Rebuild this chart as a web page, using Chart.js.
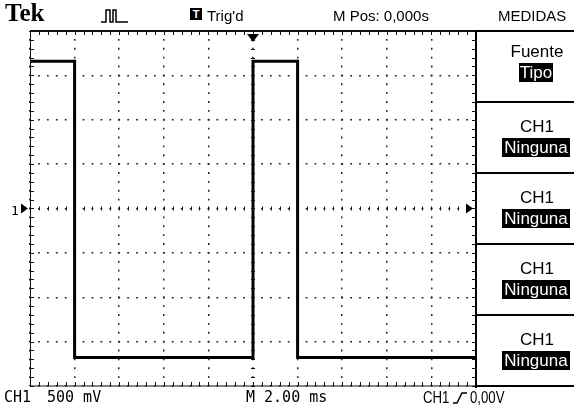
<!DOCTYPE html>
<html>
<head>
<meta charset="utf-8">
<script src="https://cdn.jsdelivr.net/npm/chart.js@4"></script>
<style>
  html, body { margin: 0; padding: 0; background: #fff; }
  #scope { position: relative; width: 574px; height: 407px; overflow: hidden; background: #fff; }
  #scope canvas { position: absolute; left: 0; top: 0; }
  .txt { position: absolute; line-height: 1; white-space: nowrap; color: #000;
         font-family: "Liberation Sans", Arial, sans-serif; font-size: 15px; }
  .mono { font-family: "DejaVu Sans Mono", monospace; font-size: 15px; }
  .inv { background: #000; color: #fff; text-align: center; }
  .sep { position: absolute; left: 476px; width: 98px; height: 2px; background: #000; }
  .menu { left: 500px; width: 74px; text-align: center; font-size: 17px; }
  .narrow { transform: scaleX(0.8); transform-origin: left top; }
</style>
</head>
<body>
<div id="scope">
  <canvas id="scopeChart" width="574" height="407"></canvas>

  <div class="txt" style="left:5px;top:0px;font-family:'Liberation Serif',serif;font-weight:bold;font-size:25px;">Tek</div>
  <svg style="position:absolute;left:100px;top:8px" width="30" height="16">
    <polyline points="1,14 6,14 6,2 10,2 10,14 13,14 13,2 16,2 16,14 28,14" fill="none" stroke="#000" stroke-width="1.5"/>
  </svg>
  <div class="txt inv" style="left:190px;top:8px;width:12px;height:12px;font-size:11px;line-height:12px;font-weight:bold;">T</div>
  <div class="txt" style="left:207px;top:8px;">Trig'd</div>
  <div class="txt" style="left:333px;top:8px;">M Pos: 0,000s</div>
  <div class="txt" style="left:498px;top:8px;">MEDIDAS</div>

  <div class="txt mono" style="left:11px;top:204px;font-size:13px;">1</div>

  <div class="txt mono" style="left:4px;top:390px;">CH1</div>
  <div class="txt mono" style="left:47px;top:390px;">500 mV</div>
  <div class="txt mono" style="left:246px;top:390px;">M 2.00 ms</div>
  <div class="txt narrow" style="left:423px;top:389px;font-size:16.5px;">CH1</div>
  <svg style="position:absolute;left:452px;top:391px" width="16" height="14">
    <polyline points="1,12 5,12 10,2 15,2" fill="none" stroke="#000" stroke-width="1.5"/>
  </svg>
  <div class="txt narrow" style="left:470px;top:389px;font-size:16.5px;">0,00V</div>

  <div id="menu"></div>
</div>

<script>
// horizontal: 2.00 ms/div, 10 divisions; vertical: 500 mV/div, 8 divisions
const msPerDiv = 2;
const voltsPerDiv = 0.5;
const timeMs = [0, 2, 2, 10, 10, 12, 12, 20];
const ch1Volts = [1.66, 1.66, -1.68, -1.68, 1.66, 1.66, -1.68, -1.68];
const triggerTimeMs = 10;
const triggerLevel = 0;

const menuTitles = ["Fuente", "CH1", "CH1", "CH1", "CH1"];
const menuValues = ["Tipo", "Ninguna", "Ninguna", "Ninguna", "Ninguna"];

// right-hand menu boxes
const menu = document.getElementById("menu");
const boxTop = 31, boxH = 71;
let html = `<div class="sep" style="top:${boxTop - 1}px;height:2px"></div>`;
html += `<div style="position:absolute;left:475px;top:${boxTop}px;width:2px;height:${boxH * 5 + 2}px;background:#000"></div>`;
menuTitles.forEach((title, i) => {
  const t = boxTop + i * boxH;
  const first = i === 0;
  html += `<div class="txt menu" style="top:${t + (first ? 12 : 16)}px">${title}</div>`;
  const w = first ? 34 : 68;
  html += `<div class="txt inv" style="left:${536 - w / 2}px;top:${t + (first ? 32 : 36)}px;width:${w}px;height:19px;line-height:19px;font-size:17px">${menuValues[i]}</div>`;
  html += `<div class="sep" style="top:${t + boxH - 1}px"></div>`;
});
menu.innerHTML = html;

const graticule = {
  id: "graticule",
  afterDatasetsDraw(chart) {
    const { ctx, chartArea: a, scales: { x, y } } = chart;
    const cx = x.getPixelForValue(triggerTimeMs);
    const cy = y.getPixelForValue(0);
    ctx.save();
    ctx.strokeStyle = "#111";
    ctx.lineWidth = 1;
    ctx.beginPath();
    for (let t = x.min; t <= x.max + 1e-6; t += msPerDiv / 5) {
      const px = Math.round(x.getPixelForValue(t)) + 0.5;
      ctx.moveTo(px, a.top); ctx.lineTo(px, a.top + 4);
      ctx.moveTo(px, a.bottom); ctx.lineTo(px, a.bottom - 4);
      ctx.moveTo(px, cy - 2); ctx.lineTo(px, cy + 2);
    }
    for (let v = y.min; v <= y.max + 1e-6; v += voltsPerDiv / 5) {
      const py = Math.round(y.getPixelForValue(v)) + 0.5;
      ctx.moveTo(a.left, py); ctx.lineTo(a.left + 4, py);
      ctx.moveTo(a.right, py); ctx.lineTo(a.right - 4, py);
      ctx.moveTo(cx - 2, py); ctx.lineTo(cx + 2, py);
    }
    ctx.stroke();

    // frame
    ctx.beginPath();
    ctx.lineWidth = 2;
    ctx.moveTo(a.left, a.top); ctx.lineTo(a.right, a.top);
    ctx.stroke();
    ctx.beginPath();
    ctx.lineWidth = 1;
    ctx.moveTo(a.left + 0.5, a.top); ctx.lineTo(a.left + 0.5, a.bottom);
    ctx.lineTo(a.right, a.bottom);
    ctx.stroke();

    // markers: trigger position, ground level, trigger level
    ctx.fillStyle = "#000";
    ctx.beginPath();
    ctx.moveTo(cx - 6, a.top + 3); ctx.lineTo(cx + 6, a.top + 3); ctx.lineTo(cx, a.top + 11);
    ctx.fill();
    ctx.beginPath();
    ctx.moveTo(a.left - 9, cy - 5); ctx.lineTo(a.left - 2, cy); ctx.lineTo(a.left - 9, cy + 5);
    ctx.fill();
    const ty = y.getPixelForValue(triggerLevel);
    ctx.beginPath();
    ctx.moveTo(a.right - 3, ty); ctx.lineTo(a.right - 10, ty - 5); ctx.lineTo(a.right - 10, ty + 5);
    ctx.fill();
    ctx.restore();
  }
};

const zeroSize = scale => { scale.width = 0; scale.height = 0; };

new Chart(document.getElementById("scopeChart"), {
  type: "line",
  data: {
    datasets: [{
      label: "CH1",
      data: timeMs.map((t, i) => ({ x: t, y: ch1Volts[i] })),
      borderColor: "#000",
      borderWidth: 3,
      pointRadius: 0,
      tension: 0,
      fill: false
    }]
  },
  options: {
    responsive: false,
    animation: false,
    layout: { padding: { left: 30, right: 98, top: 31, bottom: 21 } },
    plugins: { legend: { display: false }, tooltip: { enabled: false } },
    scales: {
      x: {
        type: "linear", min: 0, max: msPerDiv * 10,
        ticks: { display: false, stepSize: msPerDiv },
        grid: { color: "#222", lineWidth: 1.5, drawTicks: false },
        border: { display: false, dash: [1.8, 7.075], dashOffset: 0.9 },
        afterFit: zeroSize
      },
      y: {
        type: "linear", min: -voltsPerDiv * 4, max: voltsPerDiv * 4,
        ticks: { display: false, stepSize: voltsPerDiv },
        grid: { color: "#222", lineWidth: 1.5, drawTicks: false },
        border: { display: false, dash: [1.8, 7.12], dashOffset: 0.9 },
        afterFit: zeroSize
      }
    }
  },
  plugins: [graticule]
});
</script>
</body>
</html>
